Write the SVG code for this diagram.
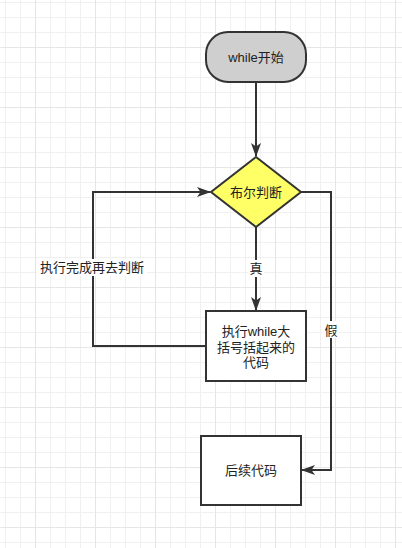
<svg xmlns="http://www.w3.org/2000/svg" width="402" height="548" viewBox="0 0 402 548">
<defs>
<pattern id="grid" x="35" y="47" width="60" height="60" patternUnits="userSpaceOnUse">
<rect x="15" y="0" width="1" height="60" fill="#f0f0f0"/>
<rect x="30" y="0" width="1" height="60" fill="#f0f0f0"/>
<rect x="45" y="0" width="1" height="60" fill="#f0f0f0"/>
<rect x="0" y="15" width="60" height="1" fill="#f0f0f0"/>
<rect x="0" y="30" width="60" height="1" fill="#f0f0f0"/>
<rect x="0" y="45" width="60" height="1" fill="#f0f0f0"/>
<rect x="0" y="0" width="1" height="60" fill="#e6e6e6"/>
<rect x="0" y="0" width="60" height="1" fill="#e6e6e6"/>
</pattern>
<marker id="arrow" viewBox="0 0 14 10" refX="13" refY="5" markerWidth="14" markerHeight="10" markerUnits="userSpaceOnUse" orient="auto">
<path d="M0,0 L14,5 L0,10 L3.5,5 Z" fill="#333"/>
</marker>
<style>
.shape{stroke:#333;stroke-width:2}
.edge{fill:none;stroke:#333;stroke-width:2}
text{font-family:"Liberation Sans","Noto Sans CJK SC",sans-serif;font-size:13px;fill:#222;text-anchor:middle;dominant-baseline:central}
.lblbg{fill:#fff}
</style>
</defs>
<rect width="402" height="548" fill="#fff"/>
<rect width="402" height="548" fill="url(#grid)"/>
<g id="connectors">
<path class="edge" d="M256,82 L256,156" marker-end="url(#arrow)"/>
<path class="edge" d="M256,227 L256,310" marker-end="url(#arrow)"/>
<path class="edge" d="M206,346 L93,346 L93,192 L210,192" marker-end="url(#arrow)"/>
<path class="edge" d="M301,192 L331,192 L331,470 L302,470" marker-end="url(#arrow)"/>
<rect class="lblbg" x="248" y="260" width="16" height="17"/>
<text x="256" y="268">真</text>
<rect class="lblbg" x="37" y="259" width="110" height="17"/>
<text x="92" y="267">执行完成再去判断</text>
<rect class="lblbg" x="323" y="321" width="16" height="17"/>
<text x="331" y="330">假</text>
</g>
<g id="start">
<rect class="shape" x="206" y="32" width="100" height="50" rx="22" ry="22" fill="#cfcfcf"/>
<text x="256" y="57">while开始</text>
</g>
<g id="decision">
<polygon class="shape" points="256,157 301,192 256,227 211,192" fill="#ffff66"/>
<text x="256" y="192">布尔判断</text>
</g>
<g id="body">
<rect class="shape" x="206" y="311" width="100" height="70" fill="#fff"/>
<text x="256" y="331">执行while大</text>
<text x="256" y="347">括号括起来的</text>
<text x="256" y="362">代码</text>
</g>
<g id="after">
<rect class="shape" x="201" y="436" width="100" height="69" fill="#fff"/>
<text x="251" y="470">后续代码</text>
</g>
</svg>
